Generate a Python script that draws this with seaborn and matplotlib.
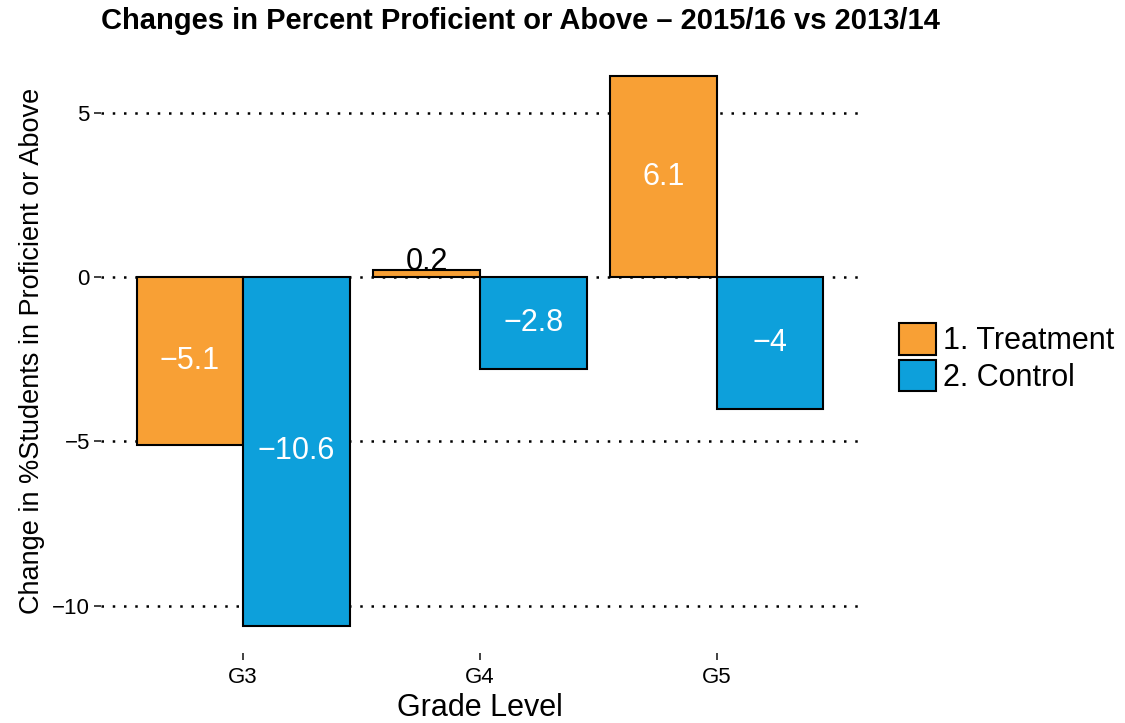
import numpy as np
import pandas as pd
import seaborn as sns
import matplotlib.pyplot as plt

grades = ["G3", "G4", "G5"]
groups = ["1. Treatment", "2. Control"]
treatment = [-5.1, 0.2, 6.1]
control = [-10.6, -2.8, -4.0]
y_ticks = [5, 0, -5, -10]
colors = ["#F8A035", "#0DA0DB"]

df = pd.DataFrame({
    "grade": grades * 2,
    "group": [groups[0]] * 3 + [groups[1]] * 3,
    "change": treatment + control,
})

sns.set_style("white")
plt.rcParams['font.family'] = ['Liberation Sans', 'DejaVu Sans']
plt.rcParams['text.color'] = 'black'
plt.rcParams['axes.labelcolor'] = 'black'

fig = plt.figure(figsize=(11.25, 7.23), dpi=100)
ax = fig.add_axes([101 / 1125, 70 / 723, 758 / 1125, 604 / 723])

# dotted horizontal grid, white vertical grid on top of it
for t in y_ticks:
    ax.axhline(t, color="black", lw=1.8, ls=(0, (1, 3.5)), zorder=0)
for i in range(len(grades)):
    ax.axvline(i, color="white", lw=1.0, zorder=0.5)

sns.barplot(data=df, x="grade", y="change", hue="group", order=grades,
            hue_order=groups, palette=colors, saturation=1, width=0.9, gap=0,
            edgecolor="black", linewidth=1.5, ax=ax, zorder=2)

# value labels
for cont in ax.containers:
    for bar in cont:
        v = bar.get_height()
        xc = bar.get_x() + bar.get_width() / 2
        lab = f"{v:g}".replace("-", "\u2212")
        if abs(v) < 1:
            ax.text(xc, v, lab, ha="center", va="baseline", color="black",
                    fontsize=22, zorder=3)
        else:
            ax.text(xc, v / 2, lab, ha="center", va="center", color="white",
                    fontsize=22, zorder=3)

ax.set_xlim(-0.6, 2.6)
ax.set_ylim(-11.435, 6.935)
ax.set_yticks(y_ticks)
ax.set_yticklabels([str(t).replace("-", "\u2212") for t in y_ticks])
for s in ax.spines.values():
    s.set_visible(False)
ax.tick_params(axis="both", which="both", length=5, width=1.3, color="#333333",
               labelsize=16, labelcolor="black", pad=3, left=True, bottom=True)
ax.tick_params(axis="x", pad=5)

ax.set_xlabel("Grade Level", fontsize=22, labelpad=4)
ax.set_ylabel("Change in %Students in Proficient or Above", fontsize=19.5, labelpad=5)
fig.text(101 / 1125, 1 - 21 / 723,
         "Changes in Percent Proficient or Above \u2013 2015/16 vs 2013/14",
         fontsize=21, fontweight="bold", ha="left", va="center")

leg = ax.legend(title=None, loc="center left", bbox_to_anchor=(1.037, 0.488),
                frameon=False, fontsize=22, handlelength=1.2, handleheight=1.2,
                handletextpad=0.22, labelspacing=0.12, borderaxespad=0)
for h in leg.legend_handles:
    h.set_edgecolor("black")
    h.set_linewidth(1.5)

fig.savefig("out.png", dpi=100)
